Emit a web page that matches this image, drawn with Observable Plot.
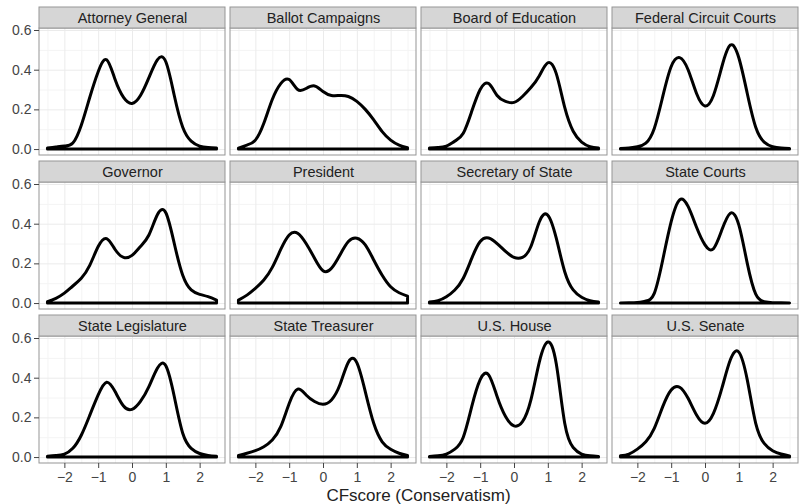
<!DOCTYPE html>
<html><head><meta charset="utf-8">
<script src="https://cdn.jsdelivr.net/npm/d3@7"></script>
<script src="https://cdn.jsdelivr.net/npm/@observablehq/plot@0.6"></script>
<style>
body{margin:0;background:#fff;font-family:"Liberation Sans",Arial,sans-serif;}
#title{width:801px;box-sizing:border-box;padding-left:38px;padding-right:2px;text-align:center;font-size:17px;line-height:17px;color:#222;}
</style></head><body>
<div id="chart"></div>
<div id="title">CFscore (Conservatism)</div>
<script>
const cfscore = [-2.5,-2.25,-2,-1.75,-1.5,-1.25,-1,-0.75,-0.5,-0.25,0,0.25,0.5,0.75,1,1.25,1.5,1.75,2,2.25,2.5];
const offices = ["Attorney General","Ballot Campaigns","Board of Education","Federal Circuit Courts",
  "Governor","President","Secretary of State","State Courts",
  "State Legislature","State Treasurer","U.S. House","U.S. Senate"];
const attorneyGeneral = [0.005,0.01,0.015,0.03,0.12,0.26,0.39,0.45,0.35,0.26,0.23,0.27,0.36,0.45,0.44,0.27,0.11,0.04,0.015,0.008,0.005];
const ballotCampaigns = [0.005,0.02,0.045,0.13,0.25,0.33,0.35,0.30,0.305,0.318,0.29,0.27,0.27,0.265,0.24,0.20,0.147,0.088,0.045,0.02,0.007];
const boardOfEducation = [0.005,0.008,0.015,0.04,0.08,0.19,0.30,0.33,0.27,0.24,0.235,0.265,0.31,0.37,0.435,0.38,0.21,0.09,0.035,0.012,0.005];
const federalCircuitCourts = [0.003,0.005,0.012,0.03,0.104,0.264,0.416,0.461,0.40,0.28,0.217,0.27,0.416,0.524,0.46,0.28,0.11,0.035,0.012,0.005,0.003];
const governor = [0.007,0.024,0.05,0.086,0.125,0.19,0.285,0.325,0.27,0.23,0.24,0.285,0.343,0.445,0.455,0.30,0.14,0.066,0.044,0.032,0.015];
const president = [0.015,0.04,0.074,0.116,0.18,0.27,0.343,0.352,0.30,0.226,0.163,0.175,0.242,0.31,0.327,0.293,0.217,0.14,0.082,0.052,0.035];
const secretaryOfState = [0.005,0.012,0.032,0.066,0.125,0.225,0.31,0.328,0.30,0.26,0.23,0.23,0.285,0.41,0.443,0.327,0.158,0.066,0.029,0.012,0.005];
const stateCourts = [0,0.001,0.003,0.01,0.049,0.217,0.41,0.52,0.487,0.382,0.293,0.274,0.369,0.453,0.394,0.20,0.045,0.007,0.002,0.001,0];
const stateLegislature = [0.004,0.008,0.015,0.044,0.11,0.21,0.313,0.377,0.33,0.257,0.24,0.28,0.355,0.448,0.46,0.305,0.12,0.044,0.018,0.008,0.004];
const stateTreasurer = [0.008,0.019,0.032,0.052,0.086,0.153,0.27,0.342,0.313,0.28,0.266,0.288,0.364,0.478,0.476,0.33,0.17,0.077,0.039,0.019,0.008];
const usHouse = [0.003,0.006,0.015,0.04,0.10,0.254,0.39,0.414,0.305,0.204,0.157,0.178,0.288,0.48,0.58,0.47,0.17,0.048,0.015,0.006,0.003];
const usSenate = [0.006,0.015,0.04,0.077,0.145,0.254,0.338,0.352,0.296,0.212,0.17,0.22,0.347,0.49,0.529,0.389,0.17,0.069,0.032,0.015,0.006];
const densities = [attorneyGeneral,ballotCampaigns,boardOfEducation,federalCircuitCourts,governor,president,
  secretaryOfState,stateCourts,stateLegislature,stateTreasurer,usHouse,usSenate];
const xTicks = [-2,-1,0,1,2];
const xMinor = [-2.5,-1.5,-0.5,0.5,1.5,2.5];
const yTicks = [0,0.2,0.4,0.6];
const yMinor = [0.1,0.3,0.5];
const xDomain = [-2.75, 2.75];
const yPanel = [-0.03, 0.61];
const yTop = 0.716;

const panels = offices.map((office, i) => ({office, col: i % 4, row: Math.floor(i / 4)}));
const points = panels.flatMap((p, i) => cfscore.map((x, j) => ({...p, x, y: densities[i][j]})));

const border = "#959595";
const chart = Plot.plot({
  width: 801, height: 487,
  marginLeft: 38, marginRight: 2, marginTop: 7, marginBottom: 24,
  style: {fontFamily: "Liberation Sans, Arial, sans-serif", fontSize: "14px", background: "#fff"},
  x: {domain: xDomain},
  y: {domain: [yPanel[0], yTop]},
  fx: {axis: null, padding: 0.025},
  fy: {axis: null, padding: 0.04},
  marks: [
    Plot.rect(panels, {fx: "col", fy: "row", x1: xDomain[0], x2: xDomain[1], y1: yPanel[0], y2: yPanel[1], fill: "white"}),
    Plot.ruleX(xMinor, {x: d => d, y1: yPanel[0], y2: yPanel[1], stroke: "#f4f4f4", strokeWidth: 1}),
    Plot.ruleY(yMinor, {y: d => d, x1: xDomain[0], x2: xDomain[1], stroke: "#f4f4f4", strokeWidth: 1}),
    Plot.ruleX(xTicks, {x: d => d, y1: yPanel[0], y2: yPanel[1], stroke: "#ebebeb", strokeWidth: 1}),
    Plot.ruleY(yTicks, {y: d => d, x1: xDomain[0], x2: xDomain[1], stroke: "#ebebeb", strokeWidth: 1}),
    Plot.areaY(points, {fx: "col", fy: "row", x: "x", y: "y", fill: "none", stroke: "black", strokeWidth: 3, curve: "natural"}),
    Plot.rect(panels, {fx: "col", fy: "row", x1: xDomain[0], x2: xDomain[1], y1: yPanel[0], y2: yPanel[1], fill: "none", stroke: border}),
    Plot.rect(panels, {fx: "col", fy: "row", x1: xDomain[0], x2: xDomain[1], y1: yPanel[1], y2: yTop, fill: "#d6d6d6", stroke: border}),
    Plot.text(panels, {fx: "col", fy: "row", x: 0, y: (yPanel[1] + yTop) / 2, text: "office", fontSize: 14.5, fill: "#222"}),
    Plot.axisY(yTicks, {anchor: "left", tickFormat: d3.format(".1f"), tickSize: 5, tickPadding: 3, fontSize: 14, color: "#444", label: null}),
    Plot.axisX(xTicks, {anchor: "bottom", tickFormat: d3.format("d"), tickSize: 5, tickPadding: 4, fontSize: 14, color: "#444", label: null})
  ]
});
document.getElementById("chart").appendChild(chart);
</script>
</body></html>
